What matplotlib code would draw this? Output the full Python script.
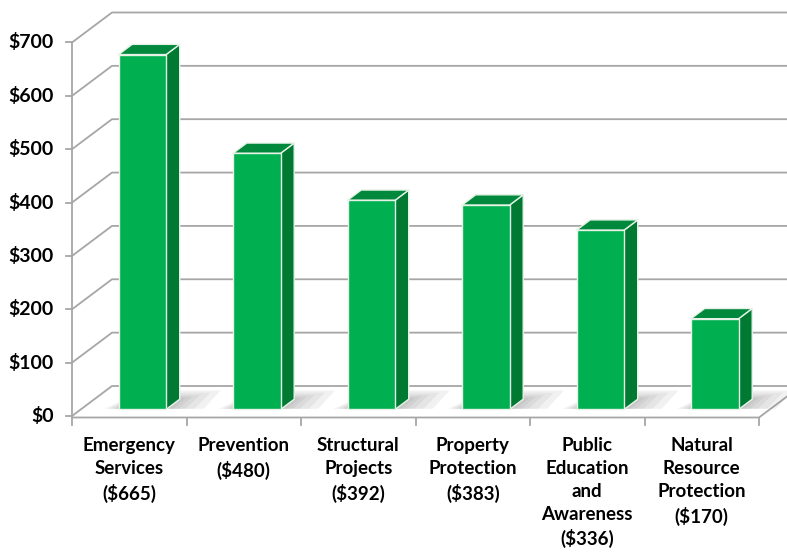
import matplotlib
matplotlib.use("Agg")
import matplotlib.pyplot as plt
from matplotlib.patches import Polygon

# chart data
categories = ["Emergency\nServices", "Prevention", "Structural\nProjects",
              "Property\nProtection", "Public\nEducation\nand\nAwareness",
              "Natural\nResource\nProtection"]
values = [665, 480, 392, 383, 336, 170]
tick_values = [0, 100, 200, 300, 400, 500, 600, 700]

FRONT = "#00B050"
SIDE = "#007A33"
TOP = "#00893D"
GRID = "#A6A6A6"

# pixel scale of the front plane
W, H = 787, 555
X0, CAT_W = 72, 114.5        # left of axis, width of one category
Y0, PX_PER = 416, 0.5336     # pixel row of $0, pixels per dollar
DEPTH_X = 40 / CAT_W         # back wall offset, in category units
DEPTH_Y = 30 / PX_PER        # back wall offset, in value units


def proj(c, v, d):
    """category, value, depth (0 front .. 1 back) -> data coords"""
    return (c + DEPTH_X * d, v + DEPTH_Y * d)


fig = plt.figure(figsize=(W / 100, H / 100), dpi=100)
ax = fig.add_axes([0, 0, 1, 1])
ax.set_xlim(-X0 / CAT_W, (W - X0) / CAT_W)
ax.set_ylim(-(H - Y0) / PX_PER, Y0 / PX_PER)
ax.axis("off")

n = len(values)

# back wall gridlines and left wall diagonals
for t in tick_values:
    p0 = proj(0, t, 0)
    p1 = proj(0, t, 1)
    p2 = proj(n + 1, t, 1)
    ax.plot([p0[0], p1[0], p2[0]], [p0[1], p1[1], p2[1]],
            color=GRID, lw=1.3, zorder=1, solid_capstyle="butt")
    # tick mark on the front axis
    ax.plot([-6 / CAT_W, 0], [t, t], color=GRID, lw=1.3, zorder=1)
    ax.text(-18 / CAT_W, t, f"${t}", ha="right", va="center",
            fontsize=14, fontweight="bold", family="Lato", color="black")

# front vertical axis
ax.plot([0, 0], [0, tick_values[-1]], color=GRID, lw=1.3, zorder=1)

# floor front edge and right edge
off = 1.5 / PX_PER
f0 = proj(0, 0, 0)
f1 = proj(n, 0, 0)
f2 = proj(n, 0, 1)
ax.plot([f0[0], f1[0], f2[0]], [f0[1] - off, f1[1] - off, f2[1] - off],
        color=GRID, lw=1.3, zorder=1)
for i in range(n + 1):
    ax.plot([i, i], [-off, -9 / PX_PER], color=GRID, lw=1.3, zorder=1)

# bar geometry inside a category
B_LEFT, B_RIGHT = 0.33, 0.745
D_FRONT, D_BACK = 0.22, 0.56

for i, v in enumerate(values):
    l, r = i + B_LEFT, i + B_RIGHT

    # soft shadow on the floor, darker close to the bar foot
    for grow in [0.32, 0.24, 0.16, 0.10, 0.05]:
        shadow = [proj(l - grow * 0.4, 0, D_FRONT + 0.02),
                  proj(r + grow, 0, D_FRONT + 0.02),
                  proj(r + grow * 0.8, 0, D_BACK + grow * 0.9),
                  proj(l, 0, D_BACK + grow * 0.9)]
        ax.add_patch(Polygon(shadow, closed=True, facecolor="#7f7f7f",
                             edgecolor="none", alpha=0.1, zorder=2))

    front = [proj(l, 0, D_FRONT), proj(r, 0, D_FRONT),
             proj(r, v, D_FRONT), proj(l, v, D_FRONT)]
    side = [proj(r, 0, D_FRONT), proj(r, 0, D_BACK),
            proj(r, v, D_BACK), proj(r, v, D_FRONT)]
    top = [proj(l, v, D_FRONT), proj(r, v, D_FRONT),
           proj(r, v, D_BACK), proj(l, v, D_BACK)]
    for poly, col in [(side, SIDE), (top, TOP), (front, FRONT)]:
        ax.add_patch(Polygon(poly, closed=True, facecolor=col,
                             edgecolor="#E6F2E6", lw=1.0, zorder=3,
                             joinstyle="round"))

# category labels
for i, (cat, v) in enumerate(zip(categories, values)):
    ax.text(i + 0.5, -21 / PX_PER, f"{cat}\n(${v})", ha="center", va="top",
            fontsize=13.5, fontweight="bold", family="Lato", color="black",
            linespacing=1.42)

fig.savefig("out.png", dpi=100, facecolor="white")
